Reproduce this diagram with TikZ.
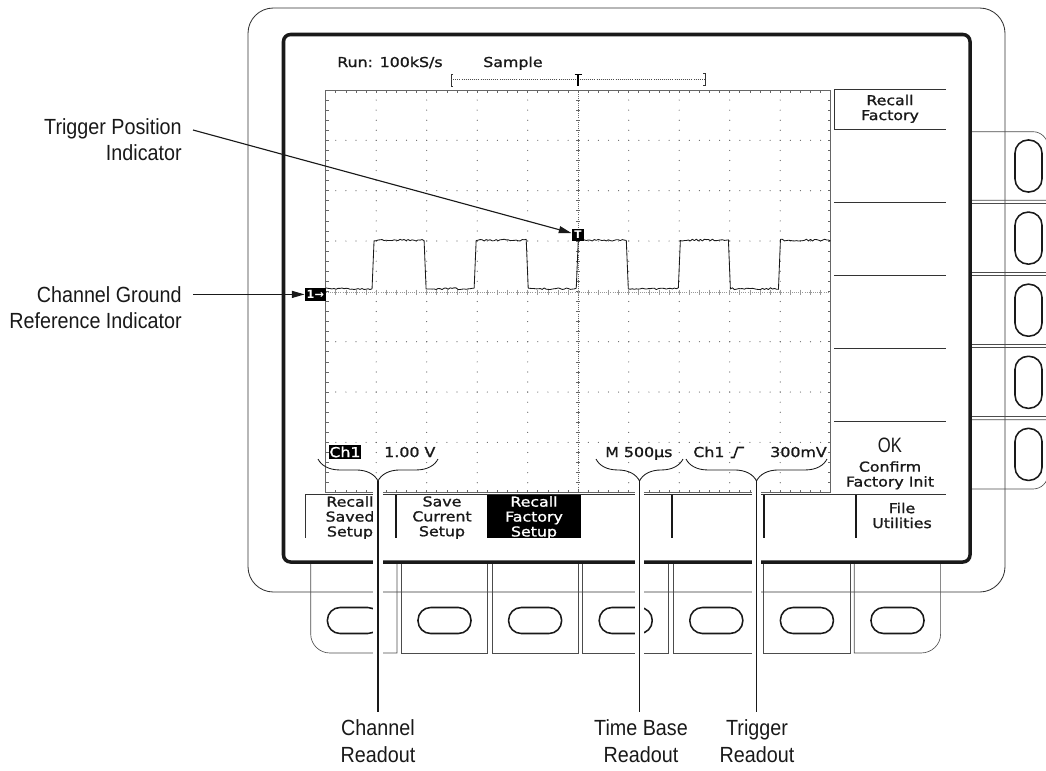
\documentclass[tikz,border=0pt]{standalone}
\usepackage{fontspec}
\setmainfont[FakeStretch=0.9]{Liberation Sans}
\newfontfamily\scrfont[FakeStretch=1.16, FakeBold=1.2]{DejaVu Sans}
\newfontfamily\okfont[FakeStretch=0.8]{Liberation Sans}
\newfontfamily\mrkfont{DejaVu Sans}
\usetikzlibrary{positioning, arrows.meta, calc, decorations.pathreplacing}

\tikzset{
  bezel/.style={draw=black!80, line width=0.6pt},
  keybox/.style={draw=black!70, line width=0.45pt},
  knob/.style={draw=black!90, line width=1.1pt},
  scrframe/.style={draw=black!90, fill=white, line width=2.5pt, rounded corners=5pt},
  grat/.style={draw=black!60, line width=0.5pt},
  gdot/.style={fill=black!60},
  trace/.style={draw=black!90, line width=0.6pt, line join=round},
  menuline/.style={draw=black!80, line width=0.5pt},
  menusep/.style={draw=black!90, line width=1.4pt},
  scrtext/.style={font=\scrfont\fontsize{9.7}{10.6}\selectfont, text=black!90, inner sep=0pt, align=center},
  lbl/.style={font=\fontsize{15.6}{18.8}\selectfont, text=black!90, inner sep=0pt},
  marker/.style={fill=black, text=white, inner sep=0pt, font=\mrkfont\bfseries\fontsize{6.5}{7}\selectfont},
  arr/.style={-{Triangle[length=9pt,width=5pt]}, line width=0.8pt, black!90},
  leader/.style={line width=0.9pt, black!90, shorten >=5.5pt, preaction={draw=white, line width=7pt}},
  brc/.style={decorate, decoration={brace, amplitude=15.6pt}, line width=0.6pt, black!90},
}

\begin{document}
\begin{tikzpicture}[x=0.025cm, y=-0.025cm]
\clip (0,0) rectangle (1046,770);

% front panel
\draw[bezel, rounded corners=18pt] (248,8) rectangle (1005,592);

% side keys
\draw[keybox] (950,200.2) -- (950,131.7) -- (1033,131.7) to[out=0,in=90] (1048,147) -- (1048,200.2) -- cycle;
\foreach \t in {203.5,275.6,347.7}
  \draw[keybox] (950,\t) rectangle (1048,{\t+68.5});
\draw[keybox] (950,419.8) -- (1048,419.8) -- (1048,474) to[out=-90,in=0] (1033,489) -- (950,489) -- cycle;
\foreach \t in {131.7,203.8,275.9,348,420.1}
  \draw[knob, rounded corners=9.3pt] (1015,{\t+8.3}) rectangle (1042,{\t+60.3});

% bottom keys
\draw[keybox] (397,540) -- (397,653) -- (330,653) to[out=180,in=-90] (310.7,634) -- (310.7,540);
\foreach \i in {1,...,5}
  \draw[keybox] ({310.7+90.6*\i},540) rectangle ({397+90.6*\i},653);
\draw[keybox] (854.3,540) -- (854.3,653) -- (921,653) to[out=0,in=-90] (940.6,634) -- (940.6,540);
\foreach \i in {0,...,6}
  \draw[knob, rounded corners=9pt] ({327.4+90.6*\i},607.5) rectangle ({380.4+90.6*\i},633.5);

% screen
\draw[scrframe] (283.5,34.5) rectangle (970,562);

% graticule
\foreach \i in {1,2,3,4,6,7,8,9}
  \foreach \j in {1,...,39}
    \fill[gdot] ({325.7+50.5*\i},{90+10.07*\j}) circle (0.6);
\foreach \j in {1,2,3,5,6,7}
  \foreach \k in {1,...,49}
    \fill[gdot] ({325.7+10.1*\k},{90+50.34*\j}) circle (0.6);
\foreach \k in {1,...,49}
  \draw[grat] ({325.7+10.1*\k},90) -- ++(0,3) ({325.7+10.1*\k},492.7) -- ++(0,-3);
\foreach \k in {1,...,39}
  \draw[grat] (325.7,{90+10.07*\k}) -- ++(3,0) (830.7,{90+10.07*\k}) -- ++(-3,0);
\draw[grat, densely dotted] (578.2,90) -- (578.2,492.7);
\foreach \k in {1,...,39}
  \draw[grat] (576.2,{90+10.07*\k}) -- ++(4,0);
\draw[grat, draw=black!40, densely dotted] (325.7,292) -- (830.7,292);
\foreach \k in {1,...,49}
  \draw[grat, draw=black!40] ({325.7+10.1*\k},289.5) -- ++(0,5);
\draw[grat] (325.7,90) rectangle (830.7,492.7);

% waveform
\pgfmathsetseed{11}
\draw[trace] plot[domain=326:830.5, samples=253, variable=\x]
  (\x, {289.6 - 48.6*(\x>=374)*(mod(floor((\x-374)/50.8),2)==0) - 1.8*rnd});

% record view
\draw[black!80, line width=0.5pt] (453,74) -- (451,74) -- (451,86) -- (453,86);
\draw[black!70, line width=0.5pt, densely dotted] (451,79.5) -- (705,79.5);
\draw[black!80, line width=0.5pt] (703,73) -- (705,73) -- (705,85) -- (703,85);
\draw[black, line width=1pt] (574.5,74.5) -- (581.5,74.5) (578,74.5) -- (578,86);
\node[scrtext, anchor=base west] (runst) at (337,67) {Run: 100kS/s};
\node[scrtext, anchor=base west] (acqmode) at (483,67) {Sample};

% markers
\node[marker, minimum width=8.9pt, minimum height=8.8pt, font=\mrkfont\bfseries\fontsize{7.5}{8}\selectfont] (trigmark) at (578,234.8) {T};
\node[marker, minimum width=14.9pt, minimum height=9.2pt, font=\mrkfont\bfseries\fontsize{8}{9}\selectfont] (gndmark) at (315.3,294.4) {1→};

% side menu
\draw[menuline] (946,89) -- (834,89) -- (834,129) -- (946,129);
\foreach \t in {202.7,275,348.3,421}
  \draw[menuline] (834,\t) -- (946,\t);
\node[scrtext, anchor=north] (rfact) at (890,94.5) {Recall\\Factory};
\node[font=\okfont\fontsize{14.8}{16}\selectfont, text=black!90, inner sep=0pt, anchor=base] (okay) at (890,452) {OK};
\node[scrtext, anchor=north] (confirm) at (890,461) {Confirm\\Factory Init};

% bottom menu
\draw[menuline] (305,494.5) -- (946,494.5) (305,494.5) -- (305,538);
\foreach \s in {396,672,764,856}
  \draw[menusep] (\s,494.5) -- (\s,538);
\fill[black] (487,494.5) rectangle (581,538);
\begin{scope}
  \clip (300,494.5) rectangle (950,538);
  \node[scrtext, anchor=north] (rsaved) at (350,496) {Recall\\Saved\\Setup};
  \node[scrtext, anchor=north] (scurr) at (442,496) {Save\\Current\\Setup};
  \node[scrtext, anchor=north, text=white] (rfsetup) at (534,496) {Recall\\Factory\\Setup};
  \node[scrtext, anchor=north] (futil) at (902,502.5) {File\\Utilities};
\end{scope}

% readouts
\node[marker, font=\scrfont\fontsize{9.7}{10.6}\selectfont, minimum width=22.7pt, minimum height=10pt] (chbox) at (345,452) {Ch1};
\node[scrtext, anchor=base west] (chvolt) at (384,457) {1.00 V};
\node[scrtext, anchor=base west] (tbase) at (605,457) {M 500µs};
\node[scrtext, anchor=base west] (trch) at (693,457) {Ch1};
\draw[black!90, line width=1.1pt] (730.5,457.5) -- (734,457.5) -- (737.5,447.5) -- (744,447.5);
\node[scrtext, anchor=base east] (trlev) at (827,457) {300mV};

% callouts
\node[lbl, align=right, anchor=north east] (trglbl) at (182,118) {Trigger Position\\Indicator};
\node[lbl, align=right, anchor=north east] (gndlbl) at (182,286) {Channel Ground\\Reference Indicator};
\draw[arr] ($(trglbl.north east)+(11,12)$) -- (trigmark);
\draw[arr] ($(gndlbl.north east)+(11,8.4)$) -- (gndmark);

\coordinate (chtip) at (378,481);
\coordinate (tbtip) at (639.5,481);
\coordinate (trtip) at (756.5,481);
\node[lbl, align=center, anchor=north] (chro) at (378,719.5) {Channel\\Readout};
\node[lbl, align=center, anchor=north] (tbro) at (641,719.5) {Time Base\\Readout};
\node[lbl, align=center, anchor=north] (trro) at (757,719.5) {Trigger\\Readout};
\draw[leader] (chtip) -- (chtip |- chro.north);
\draw[leader] (tbtip) -- (tbtip |- tbro.north);
\draw[leader] (trtip) -- (trtip |- trro.north);
\draw[brc] (438,459) -- (318,459);
\draw[brc] (683,459) -- (596,459);
\draw[brc] (827,459) -- (686,459);
\end{tikzpicture}
\end{document}
